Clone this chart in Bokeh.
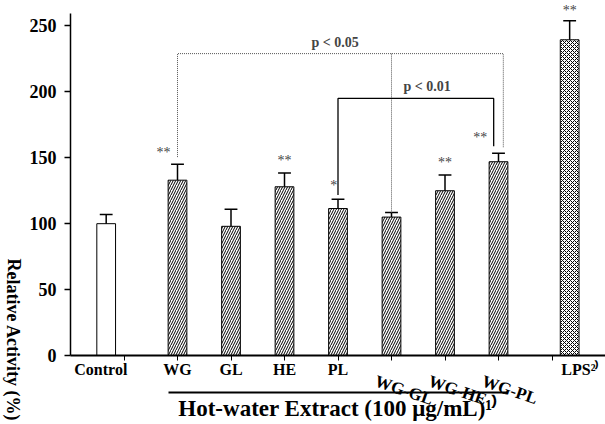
from bokeh.plotting import figure
from bokeh.layouts import row, column
from bokeh.models import Label, FixedTicker, LinearAxis, CustomJSTickFormatter
from bokeh.core.properties import value
from bokeh.embed import file_html
from bokeh.resources import INLINE

# ---- data ----
categories = ["Control", "WG", "GL", "HE", "PL", "WG-GL", "WG-HE", "WG-PL", "LPS"]
means = [100, 133, 98, 128, 111.5, 105, 125, 147, 239.5]
errors = [7, 12, 13, 10.5, 7, 3.5, 12, 6.5, 14.5]
significance = ["", "**", "", "**", "*", "", "**", "**", "**"]
y_ticks = [0, 50, 100, 150, 200, 250]
superscripts = {"LPS": "\u00b2\u207e"}
x_title = "Hot-water Extract (100 \u03bcg/mL)\u00b9\u207e"
y_title = "Relative Activity (%)"
brackets = [  # (left index, right index, height, label, middle index)
    (1, 7, 229, "p < 0.05", 5),
    (4, 7, 195, "p < 0.01", None),
]

# ---- layout ----
xs = [0.667, 2, 3, 4, 5, 6, 7, 8, 9.33]
rotated = ["WG-GL", "WG-HE", "WG-PL"]
FONT = "Liberation Serif"
H = 424
TW = 26

p = figure(width=605 - TW, height=H, x_range=(0, 10), y_range=(0, 269.3),
           output_backend="svg", toolbar_location=None,
           min_border_left=67 - TW, min_border_right=0, min_border_top=0,
           min_border_bottom=68)
p.outline_line_color = None
p.xgrid.grid_line_color = None
p.ygrid.grid_line_color = None
p.background_fill_color = "white"
p.border_fill_color = "white"

# y axis
ya = p.yaxis[0]
ya.ticker = FixedTicker(ticks=y_ticks)
ya.bounds = (0, 259.5)
ya.major_label_text_font = FONT
ya.major_label_text_font_style = "bold"
ya.major_label_text_font_size = "18px"
ya.major_label_text_color = "black"
ya.major_tick_in = 0
ya.major_tick_out = 6
ya.minor_tick_line_color = None
ya.axis_line_width = 1.5
ya.major_tick_line_width = 1.5
ya.major_label_standoff = 8

# x axis 1: axis line, small ticks, straight category labels
straight = [c for c in categories if c not in rotated]
straight_x = [xs[i] + (-0.1 if i == 0 else (0.2 if c in superscripts else 0))
              for i, c in enumerate(categories) if c not in rotated]
straight_txt = [c + superscripts.get(c, "") for c in straight]
xa = p.xaxis[0]
xa.ticker = FixedTicker(ticks=straight_x, minor_ticks=list(range(1, 10)))
xa.formatter = CustomJSTickFormatter(args=dict(labels=straight_txt), code="return labels[index];")
xa.major_tick_line_color = None
xa.major_tick_in = 0
xa.major_tick_out = 0
xa.minor_tick_in = 0
xa.minor_tick_out = 5
xa.minor_tick_line_color = "black"
xa.axis_line_width = 2
xa.major_label_text_font = FONT
xa.major_label_text_font_style = "bold"
xa.major_label_text_font_size = "16px"
xa.major_label_text_color = "black"
xa.major_label_standoff = 0
xa.axis_label = " "
xa.axis_label_text_font_size = "10px"
xa.axis_label_standoff = -2

# x axis 2: group line, rotated labels, title
rot_x = [xs[categories.index(c)] - 0.3 for c in rotated]
xb = LinearAxis(ticker=FixedTicker(ticks=rot_x), bounds=(xs[1] - 0.17, xs[7] + 0.17))
xb.formatter = CustomJSTickFormatter(args=dict(labels=rotated), code="return labels[index];")
xb.major_tick_line_color = None
xb.minor_tick_line_color = None
xb.major_tick_in = 0
xb.major_tick_out = 0
xb.axis_line_width = 2
xb.major_label_orientation = -0.33
xb.major_label_text_font = FONT
xb.major_label_text_font_style = "bold"
xb.major_label_text_font_size = "17px"
xb.major_label_text_color = "black"
xb.major_label_standoff = -12
xb.axis_label = x_title
xb.axis_label_text_font = FONT
xb.axis_label_text_font_style = "bold"
xb.axis_label_text_font_size = "23px"
xb.axis_label_text_line_height = 0.9
xb.axis_label_text_color = "black"
xb.axis_label_standoff = -25
p.add_layout(xb, "below")

# bars
idx_ctrl = [0]
idx_hatch = [1, 2, 3, 4, 5, 6, 7]
idx_lps = [8]
p.vbar(x=[xs[i] for i in idx_ctrl], top=[means[i] for i in idx_ctrl], width=0.35,
       fill_color="white", line_color="black", line_width=1)
p.vbar(x=[xs[i] for i in idx_hatch], top=[means[i] for i in idx_hatch], width=0.35,
       fill_color="white", line_color="black", line_width=1,
       hatch_pattern="/", hatch_color="black", hatch_scale=5, hatch_weight=1)
p.vbar(x=[xs[i] for i in idx_lps], top=[means[i] for i in idx_lps], width=0.35,
       fill_color="white", line_color="black", line_width=1,
       hatch_pattern="x", hatch_color="black", hatch_scale=4, hatch_weight=1)

# error bars (upper only)
tops = [m + e for m, e in zip(means, errors)]
p.segment(x0=xs, y0=means, x1=xs, y1=tops, line_color="black", line_width=1.5)
p.segment(x0=[x - 0.12 for x in xs], y0=tops, x1=[x + 0.12 for x in xs], y1=tops,
          line_color="black", line_width=1.5)

# significance stars
star_dx = [0, -0.26, 0, 0, -0.08, 0, 0, -0.34, 0]
star_dy = [0, 3, 0, 4, 5, 0, 4, 6, 2]
for i, s in enumerate(significance):
    if s:
        p.add_layout(Label(x=xs[i] + star_dx[i], y=tops[i] + star_dy[i], text=s,
                           text_font=FONT, text_font_size="14px", text_color="#444444",
                           text_align="center", text_baseline="bottom"))

# brackets
for (a, b, h, lab, mid) in brackets:
    dotted = mid is not None
    if dotted:
        x0, x1 = xs[a], xs[b] + 0.09
        y0, y1 = tops[a] + 5.5, tops[b] + 4.5
        style = dict(line_color="#555555", line_width=1, line_dash="1 1")
    else:
        x0, x1 = xs[a], xs[b] - 0.09
        y0, y1 = tops[a] + 3.3, tops[b] + 5.3
        style = dict(line_color="black", line_width=1.3)
    p.line(x=[x0, x0, x1, x1], y=[y0, h, h, y1], **style)
    if dotted:
        p.line(x=[xs[mid], xs[mid]], y=[h, tops[mid]], **style)
        lx = (x0 + x1) / 2 - 0.1
    else:
        lx = (x0 + x1) / 2 + 0.21
    p.add_layout(Label(x=lx, y=h + 3, text=lab, text_font=FONT, text_font_style="bold",
                       text_font_size="14px", text_align="center", text_baseline="bottom"))

# narrow strip on the left holding the y title (reads top to bottom)
t = figure(width=TW, height=H, x_range=(0, TW), y_range=(0, H),
           x_axis_type=None, y_axis_type=None,
           output_backend="svg", toolbar_location=None,
           min_border_left=0, min_border_right=0, min_border_top=0, min_border_bottom=0)
t.grid.visible = False
t.outline_line_color = None
t.text(x=[13], y=[H - 258], text=[y_title], angle=-1.5708,
       text_font=value(FONT), text_font_style="bold", text_font_size="18px",
       text_color="black", text_align="left", text_baseline="middle")

layout = row(column(t), p)
open("out.html", "w").write(file_html(layout, INLINE))
